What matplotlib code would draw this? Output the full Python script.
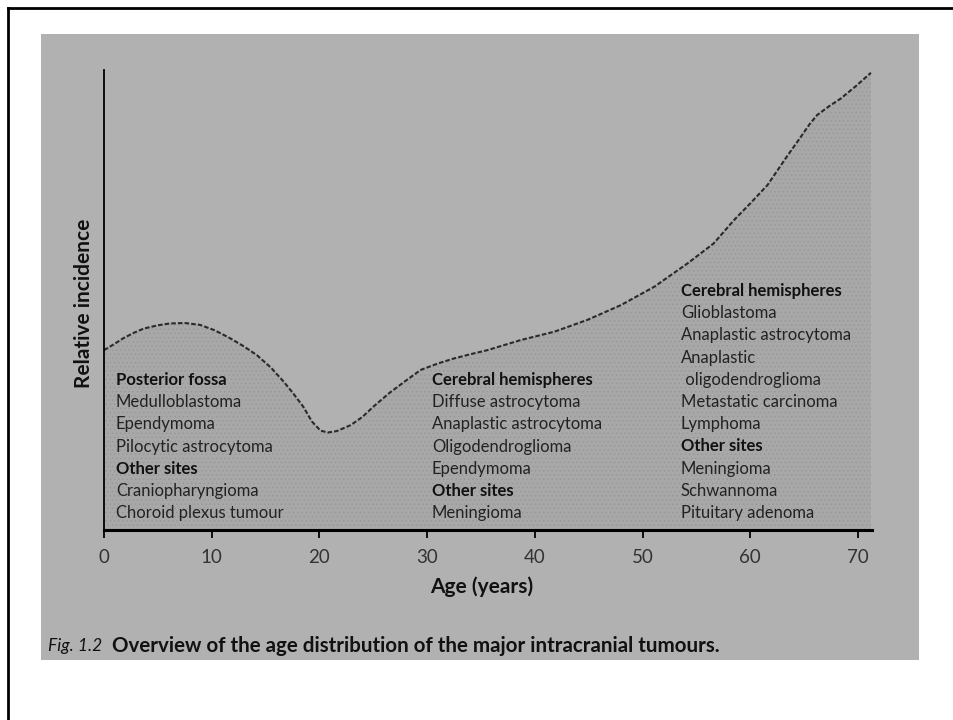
import matplotlib
matplotlib.use('Agg')
import matplotlib.pyplot as plt
from matplotlib.patches import Rectangle
from matplotlib.lines import Line2D

# --- DATA ---
ages = [0, 1.0, 1.8, 2.8, 3.7, 5.0, 6.1, 7.5, 8.9, 10.3, 11.7, 13.0, 14.2,
        15.5, 16.7, 17.6, 18.5, 19.3, 20.1, 20.8, 21.6, 22.9, 24.0, 25.0,
        26.5, 28.1, 29.4, 31.0, 32.5, 34.0, 35.6, 38.7, 41.8, 44.9, 48.0,
        51.1, 54.2, 56.6, 58.5, 60.0, 61.6, 63.4, 64.7, 65.5, 66.2, 67.3,
        68.4, 69.8, 71.2]
incidence = [39.1, 40.5, 41.7, 42.9, 43.8, 44.5, 44.9, 45.0, 44.6, 43.4, 41.7,
             39.9, 38.0, 35.3, 32.2, 29.6, 26.8, 23.6, 21.6, 21.2, 21.5, 22.8,
             24.6, 26.8, 29.8, 32.6, 34.8, 36.2, 37.3, 38.2, 39.1, 41.3, 43.1,
             45.7, 48.9, 52.9, 58.0, 62.3, 67.4, 71.0, 75.0, 81.2, 85.5, 88.2,
             90.2, 92.1, 93.8, 96.5, 99.4]
x_ticks = [0, 10, 20, 30, 40, 50, 60, 70]

# text blocks: (text, is_heading)
block_child = [("Posterior fossa", True), ("Medulloblastoma", False),
               ("Ependymoma", False), ("Pilocytic astrocytoma", False),
               ("Other sites", True), ("Craniopharyngioma", False),
               ("Choroid plexus tumour", False)]
block_young = [("Cerebral hemispheres", True), ("Diffuse astrocytoma", False),
               ("Anaplastic astrocytoma", False), ("Oligodendroglioma", False),
               ("Ependymoma", False), ("Other sites", True),
               ("Meningioma", False)]
block_old = [("Cerebral hemispheres", True), ("Glioblastoma", False),
             ("Anaplastic astrocytoma", False), ("Anaplastic", False),
             (" oligodendroglioma", False), ("Metastatic carcinoma", False),
             ("Lymphoma", False), ("Other sites", True), ("Meningioma", False),
             ("Schwannoma", False), ("Pituitary adenoma", False)]

caption_fig = "Fig. 1.2"
caption_text = "Overview of the age distribution of the major intracranial tumours."

plt.rcParams['font.family'] = ['Lato', 'DejaVu Sans']
plt.rcParams['hatch.linewidth'] = 0.6

W, H = 954, 720
fig = plt.figure(figsize=(W / 100, H / 100), dpi=100, facecolor='white')


def fx(x):
    return x / W


def fy(y):
    return 1 - y / H


# grey scanned page + black frame of the screenshot
fig.add_artist(Rectangle((fx(41), fy(660)), fx(919) - fx(41), fy(34) - fy(660),
                         transform=fig.transFigure, facecolor='#b1b1b1',
                         edgecolor='none', zorder=0))
fig.add_artist(Line2D([fx(8), 1], [fy(8), fy(8)], transform=fig.transFigure,
                      color='black', lw=2))
fig.add_artist(Line2D([fx(8), fx(8)], [0, fy(8)], transform=fig.transFigure,
                      color='black', lw=2))

# axes: x from 0 to 71.3 years between px 104 and 872, y 0..100 between px 530 and 70
ax = fig.add_axes([fx(104), fy(530), fx(872) - fx(104), fy(70) - fy(530)])
ax.set_facecolor('none')
ax.set_xlim(0, 71.3)
ax.set_ylim(0, 100)

ax.fill_between(ages, incidence, 0, facecolor='#a8a8a8', edgecolor='#999999',
                hatch='....', linewidth=0, zorder=1)
ax.plot(ages, incidence, color='#2a2a2a', lw=1.5, linestyle=(0, (2.2, 1.0)),
        zorder=3)

for side in ['top', 'right']:
    ax.spines[side].set_visible(False)
ax.spines['left'].set_linewidth(1.3)
ax.spines['bottom'].set_linewidth(2.2)
ax.spines['left'].set_zorder(4)
ax.spines['bottom'].set_zorder(4)

ax.set_yticks([])
ax.set_xticks(x_ticks)
ax.set_xticklabels([str(t) for t in x_ticks])
ax.tick_params(axis='x', direction='out', length=6, width=1.3, pad=8,
               labelsize=13.5, labelcolor='#333333')

fig.text(fx(84), fy(303), "Relative incidence", rotation=90, ha='center',
         va='center', fontsize=15, fontweight='bold', color='#111111')
fig.text(fx(482), fy(587), "Age (years)", ha='center', va='center',
         fontsize=15, fontweight='bold', color='#111111')


def draw_block(lines, x, y0, step=22.2):
    for i, (txt, head) in enumerate(lines):
        fig.text(fx(x), fy(y0 + i * step), txt, ha='left', va='center',
                 fontsize=12, fontweight='bold' if head else 'normal',
                 color='#111111' if head else '#222222')


draw_block(block_child, 116, 380)
draw_block(block_young, 432, 380)
draw_block(block_old, 681, 291)

# caption under the figure
fig.text(fx(48), fy(646), caption_fig, ha='left', va='center',
         fontsize=12.5, fontstyle='italic', color='#111111')
fig.text(fx(112), fy(646), caption_text, ha='left', va='center',
         fontsize=14.8, fontweight='bold', color='#111111')

plt.savefig('out.png', dpi=100, facecolor='white')
plt.close(fig)
